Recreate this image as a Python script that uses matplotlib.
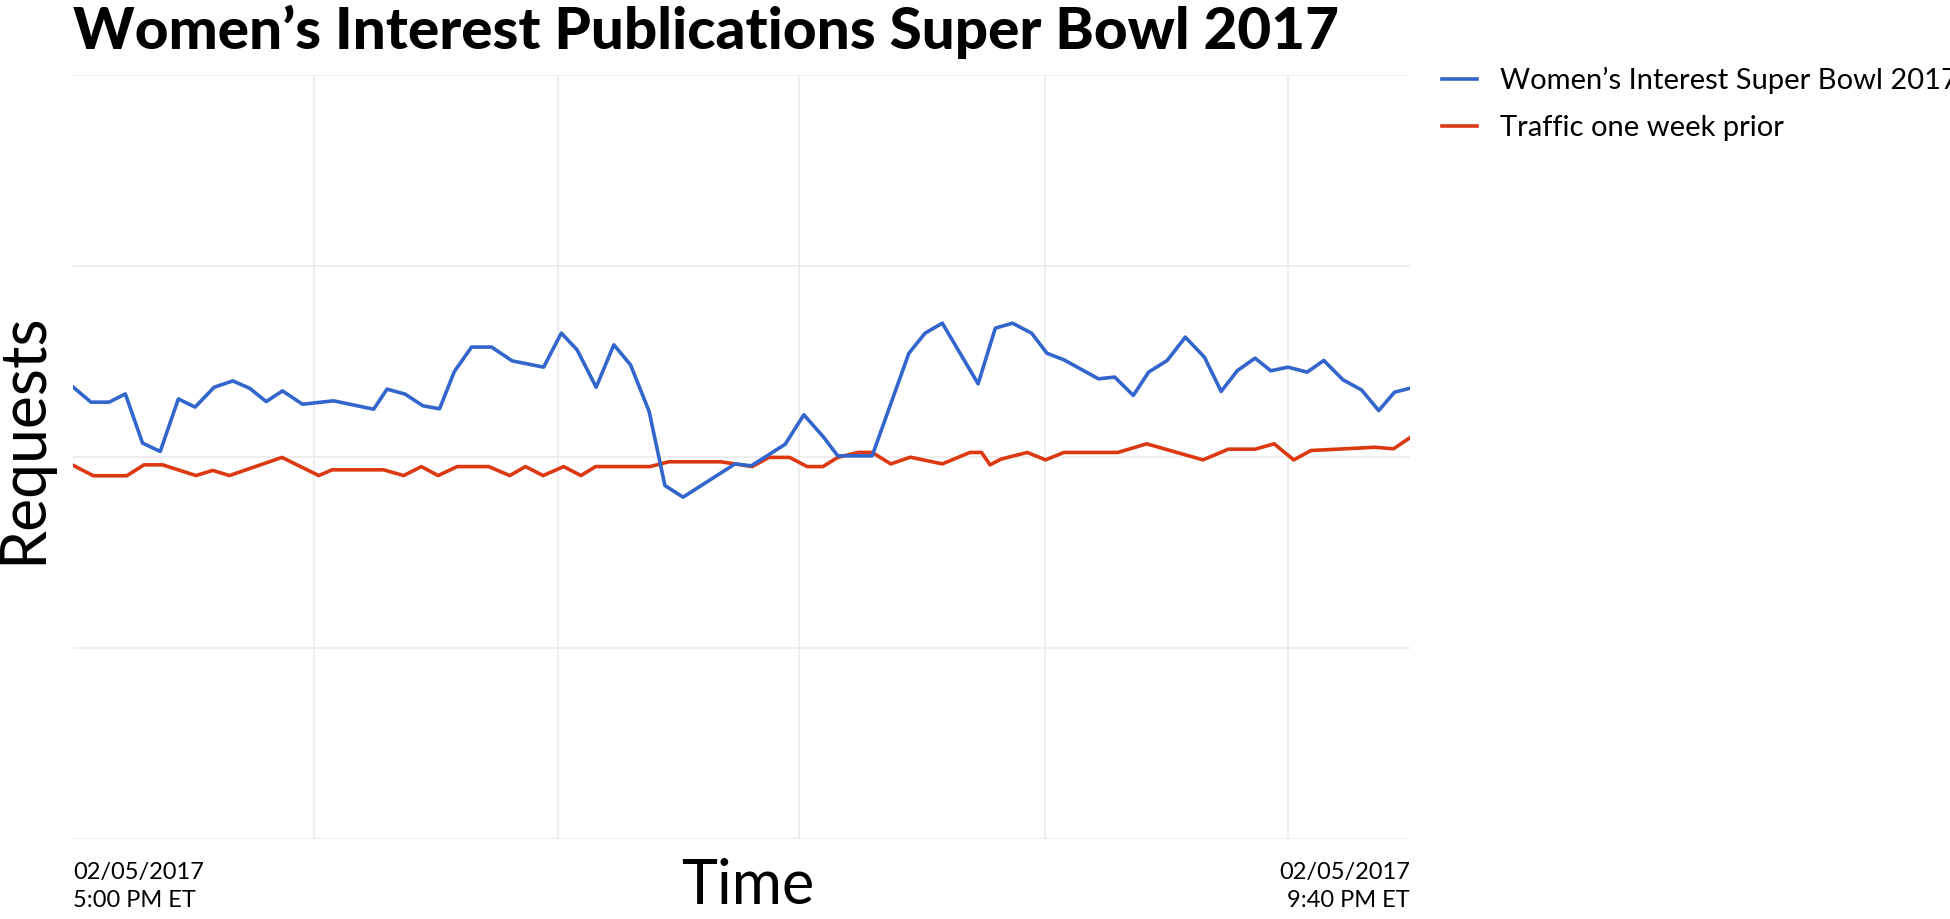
import matplotlib
matplotlib.use("Agg")
import matplotlib.pyplot as plt

plt.rcParams['font.family'] = ['Lato', 'DejaVu Sans']

title = "Women\u2019s Interest Publications Super Bowl 2017"
series_names = ["Women\u2019s Interest Super Bowl 2017", "Traffic one week prior"]

blue_t = [0, 3.7, 7.5, 10.9, 14.5, 18.2, 22.0, 25.5, 29.5, 33.4, 36.9, 40.4, 43.8, 48.0, 54.5, 62.9, 65.7,
          69.5, 73.2, 76.7, 79.8, 83.4, 87.6, 91.9, 98.5, 102.2, 105.5, 109.5, 113.2, 116.7, 120.6, 123.9,
          127.7, 138.6, 142.0, 149.1, 153.0, 157.2, 160.1, 167.3, 175.0, 178.4, 182.0, 189.5, 193.1, 196.7,
          200.7, 203.9, 207.5, 214.7, 218.1, 222.0, 225.2, 229.1, 232.9, 236.9, 240.4, 243.8, 247.5, 250.8,
          254.4, 258.4, 261.9, 265.9, 269.8, 273.4, 276.7, 280]
blue_v = [236.5, 228.7, 228.7, 233.0, 207.3, 202.9, 230.4, 226.1, 236.5, 239.8, 236.0, 229.0, 234.6, 227.6,
          229.4, 225.0, 235.5, 232.9, 226.8, 225.2, 244.7, 257.5, 257.5, 250.3, 247.0, 264.8, 256.1, 236.5,
          258.7, 248.2, 223.8, 185.1, 179.0, 196.4, 195.4,
          206.7, 222.1, 210.2, 200.6, 200.6, 254.3, 264.8, 270.0, 238.3, 267.4, 270.0, 264.8, 254.3, 250.8,
          240.9, 241.8, 232.2, 244.4, 250.5, 262.7, 252.2, 234.3, 245.2, 251.7, 245.1, 247.0, 244.4, 250.5,
          240.4, 235.1, 224.3, 233.9, 236.0]

red_t = [0, 4.2, 11.2, 14.8, 18.7, 25.7, 29.2, 32.7, 43.7, 51.4, 54.2, 65.0, 69.2, 72.9, 76.4, 80.4, 87.0,
         91.4, 94.7, 98.4, 102.7, 106.3, 109.4, 120.8, 124.7, 135.6, 142.2, 145.7, 150.0, 153.7, 157.0,
         160.1, 164.4, 167.3, 171.2, 175.3, 182.0, 187.8, 190.2, 192.0, 194.3, 199.8, 203.6, 207.5, 218.8,
         224.8, 236.6, 241.9, 247.5, 251.5, 255.6, 259.2, 272.6, 276.5, 280]
red_v = [195.6, 190.2, 190.2, 195.9, 195.9, 190.3, 193.0, 190.3, 199.8, 190.3, 193.3, 193.3, 190.3, 195.0,
         190.3, 195.0, 195.0, 190.3, 195.0, 190.3, 195.0, 190.3, 195.0, 195.0, 197.5, 197.5, 195.0,
         199.8, 199.8, 195.0, 195.0, 199.8, 202.4, 202.4, 196.4, 199.9, 196.4, 202.4, 202.4, 195.9, 198.9,
         202.4, 198.5, 202.4, 202.4, 206.9, 198.5, 204.1, 204.1, 206.9, 198.5, 203.4, 205.1, 204.3, 210.2]

x_labels = ["02/05/2017\n5:00 PM ET", "02/05/2017\n9:40 PM ET"]
x_grid = [50.5, 101.5, 152, 203.5, 254.5]
y_grid = [0, 100, 200, 300, 400]

fig = plt.figure(figsize=(19.5, 9.19), dpi=100)
ax = fig.add_axes([0.0376, 0.0866, 0.6856, 0.8322])
ax.set_xlim(0, 280)
ax.set_ylim(0, 400)
for g in x_grid:
    ax.axvline(g, color='#ebebeb', lw=1.2, zorder=0)
for g in y_grid:
    ax.axhline(g, color='#ebebeb', lw=1.2, zorder=0)
ax.plot(blue_t, blue_v, color='#3366CC', lw=2.6, label=series_names[0], zorder=3)
ax.plot(red_t, red_v, color='#DC3912', lw=2.6, label=series_names[1], zorder=2)
for s in ax.spines.values():
    s.set_visible(False)
ax.set_xticks([])
ax.set_yticks([])

ax.text(0, -0.03, x_labels[0], transform=ax.transAxes, ha='left', va='top', fontsize=17, linespacing=1.4)
ax.text(1, -0.03, x_labels[1], transform=ax.transAxes, ha='right', va='top', fontsize=17, linespacing=1.4)
fig.text(0.3833, 0.035, "Time", ha='center', va='center', fontsize=44)
fig.text(0.012, 0.523, "Requests", ha='center', va='center', rotation=90, fontsize=45)
fig.text(0.0376, 0.995, title, ha='left', va='top', fontsize=42, fontweight='black')

ax.legend(loc='upper left', bbox_to_anchor=(1.015, 1.025), frameon=False, fontsize=21,
          handlelength=1.2, handletextpad=0.8, labelspacing=0.7, borderaxespad=0)

fig.savefig("out.png", dpi=100)
